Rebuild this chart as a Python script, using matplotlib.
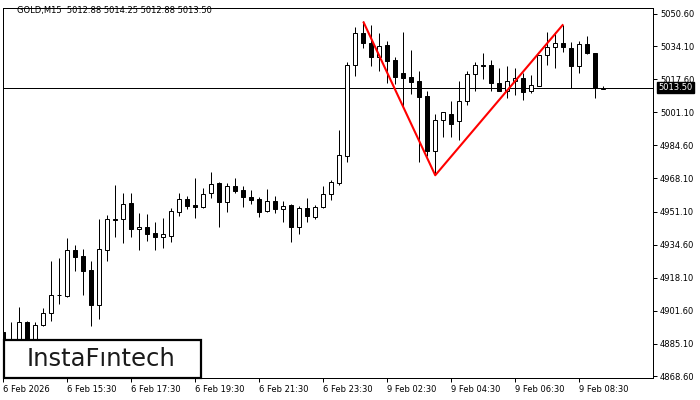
import matplotlib
matplotlib.use("Agg")
import matplotlib.pyplot as plt
from matplotlib.patches import Rectangle
import matplotlib.transforms as mtransforms

# ---- data (GOLD, M15) ----
opens = [4890.9, 4886.4, 4886.9, 4895.9, 4886.9, 4894.3, 4900.3, 4909.3, 4909.1, 4932.0,
         4929.0, 4922.0, 4904.6, 4932.2, 4947.7, 4947.7, 4955.4, 4942.4, 4943.6, 4940.4,
         4938.4, 4939.2, 4951.2, 4957.4, 4954.4, 4953.7, 4960.5, 4965.5, 4955.9, 4964.0,
         4962.1, 4958.4, 4957.4, 4951.4, 4956.7, 4952.7, 4954.4, 4943.7, 4952.9, 4948.7,
         4953.4, 4960.0, 4965.5, 4979.3, 5024.6, 5040.7, 5035.7, 5028.9, 5034.8, 5027.3,
         5020.9, 5018.8, 5016.8, 5009.2, 4981.5, 4997.2, 5000.1, 4996.6, 5006.5, 5020.1,
         5024.9, 5024.8, 5015.6, 5011.9, 5016.9, 5018.1, 5011.7, 5014.4, 5029.6, 5033.7,
         5035.7, 5033.2, 5024.4, 5035.3, 5030.6, 5012.88]
highs = [4893.4, 4895.9, 4903.4, 4896.4, 4895.9, 4903.1, 4926.7, 4928.2, 4937.9, 4934.5,
         4932.5, 4926.5, 4947.6, 4949.6, 4964.6, 4960.5, 4960.8, 4950.4, 4949.9, 4945.9,
         4947.9, 4952.9, 4960.5, 4959.1, 4968.0, 4963.3, 4971.3, 4966.0, 4965.7, 4968.0,
         4964.3, 4962.1, 4958.4, 4962.5, 4959.1, 4956.7, 4955.1, 4954.1, 4957.9, 4954.6,
         4964.1, 4967.1, 4992.2, 5026.1, 5043.7, 5046.8, 5044.8, 5040.7, 5036.8, 5028.8,
         5041.3, 5032.3, 5021.8, 5011.7, 5000.1, 5001.2, 5006.5, 5016.8, 5021.6, 5026.3,
         5030.8, 5027.3, 5023.1, 5024.3, 5023.3, 5020.6, 5019.8, 5029.8, 5041.2, 5041.2,
         5044.8, 5036.5, 5036.8, 5039.3, 5030.8, 5014.25]
lows = [4881.9, 4882.9, 4884.4, 4883.9, 4885.4, 4893.8, 4896.6, 4904.8, 4908.6, 4921.6,
        4909.5, 4894.1, 4897.6, 4926.7, 4938.7, 4935.4, 4938.7, 4932.0, 4936.5, 4932.0,
        4932.9, 4936.2, 4949.2, 4952.4, 4947.9, 4953.2, 4958.2, 4943.7, 4951.2, 4960.5,
        4953.4, 4954.9, 4948.4, 4951.2, 4950.7, 4946.2, 4936.2, 4939.9, 4945.9, 4947.4,
        4953.0, 4957.1, 4964.6, 4976.3, 5019.4, 5033.2, 5024.4, 5021.9, 5016.0, 5015.3,
        5004.2, 5010.2, 4975.9, 4979.2, 4969.6, 4988.8, 4988.8, 4987.2, 5004.7, 5011.7,
        5017.9, 5011.9, 5011.6, 5008.1, 5009.7, 5007.2, 5010.6, 5014.2, 5024.8, 5023.1,
        5031.2, 5013.1, 5020.6, 5030.4, 5008.1, 5012.88]
closes = [4884.4, 4886.9, 4895.9, 4885.9, 4894.4, 4900.4, 4909.3, 4909.4, 4932.0, 4928.7,
          4921.6, 4904.6, 4932.5, 4947.4, 4947.2, 4955.1, 4942.4, 4943.6, 4940.2, 4938.4,
          4939.9, 4951.4, 4957.4, 4954.2, 4953.7, 4960.0, 4965.0, 4955.9, 4964.0, 4961.8,
          4958.4, 4956.9, 4951.2, 4956.7, 4952.7, 4954.2, 4943.7, 4952.9, 4949.2, 4953.4,
          4960.0, 4966.0, 4979.5, 5024.6, 5040.7, 5035.7, 5028.9, 5034.3, 5026.9, 5018.9,
          5018.5, 5016.4, 5008.9, 4981.8, 4997.2, 5001.1, 4995.0, 5006.7, 5020.1, 5024.6,
          5024.1, 5015.6, 5011.9, 5016.9, 5018.1, 5011.4, 5014.6, 5029.6, 5033.7, 5035.7,
          5034.0, 5024.4, 5035.3, 5030.6, 5013.1, 5013.50]

pattern_idx = [45, 54, 70]
pattern_price = [5046.6, 4969.5, 5045.2]

current_price = 5013.50
title_text = "GOLD,M15  5012.88 5014.25 5012.88 5013.50"

xtick_idx = [0, 8, 16, 24, 32, 40, 48, 56, 64, 72]
xtick_labels = ["6 Feb 2026", "6 Feb 15:30", "6 Feb 17:30", "6 Feb 19:30", "6 Feb 21:30",
                "6 Feb 23:30", "9 Feb 02:30", "9 Feb 04:30", "9 Feb 06:30", "9 Feb 08:30"]
ytick_vals = [5050.60, 5034.10, 5017.60, 5001.10, 4984.60, 4968.10,
              4951.10, 4934.60, 4918.10, 4901.60, 4885.10, 4868.60]

# ---- figure ----
W, H = 700, 400
fig = plt.figure(figsize=(7, 4), dpi=100)
fig.patch.set_facecolor("white")
L, R, T, B = 3, 653, 8, 378
ax = fig.add_axes([L / W, 1 - B / H, (R - L) / W, (B - T) / H])
ax.set_facecolor("white")

n = len(opens)
xs = list(range(n))
px = 1.0 * 72 / 100  # one pixel in points

# wicks
ax.vlines(xs, lows, highs, color="black", linewidth=px, zorder=2)

# bodies
for i in xs:
    o, c = opens[i], closes[i]
    bottom = min(o, c)
    height = max(abs(c - o), 0.05)
    face = "white" if c >= o else "black"
    ax.bar(i, height, bottom=bottom, width=0.5, color=face, edgecolor="black",
           linewidth=px, zorder=3)

# current price line
ax.axhline(current_price, color="black", linewidth=px, zorder=1)

# pattern lines
ax.plot(pattern_idx, pattern_price, color="#ff0000", linewidth=1.5, zorder=5,
        solid_capstyle="butt")

ax.set_xlim(-0.03, (R - L) / 8 - 0.03)
ax.set_ylim(4867.8, 5053.4)

for s in ax.spines.values():
    s.set_linewidth(px)
    s.set_color("black")

# y axis on right
ax.yaxis.tick_right()
ax.set_yticks(ytick_vals)
ax.set_yticklabels([f"{v:.2f}" for v in ytick_vals])
ax.tick_params(axis="y", direction="out", length=3, width=px, labelsize=6, pad=2,
               colors="black")

ax.set_xticks(xtick_idx)
ax.set_xticklabels(xtick_labels)
ax.tick_params(axis="x", direction="out", length=3, width=px, labelsize=6, pad=2,
               colors="black")
for lab in ax.get_xticklabels():
    lab.set_horizontalalignment("left")

# title inside chart
ax.text((17 - L) / (R - L), (B - 11) / (B - T), title_text, transform=ax.transAxes,
        fontsize=6, va="center", ha="left", color="black", family="DejaVu Sans")

# current price tag on the right
trans = mtransforms.blended_transform_factory(ax.transAxes, ax.transData)
ax.text((658 - L) / (R - L), current_price, "5013.50", transform=trans, fontsize=6,
        color="white", va="center", ha="left", zorder=10, clip_on=False,
        bbox=dict(boxstyle="square,pad=0.15", facecolor="black", edgecolor="black"))

# logo box
fig.patches.append(Rectangle((4 / W, 1 - 378 / H), (201 - 4) / W, (378 - 340) / H,
                             transform=fig.transFigure, facecolor="white",
                             edgecolor="black", linewidth=1.6, zorder=20))
fig.text(101 / W, 1 - 359 / H, "InstaF\u0131ntech", fontsize=17.5, fontweight="normal",
         color="#1a1a1a", ha="center", va="center", zorder=21, family="DejaVu Sans")

fig.savefig("out.png", dpi=100, facecolor="white")
